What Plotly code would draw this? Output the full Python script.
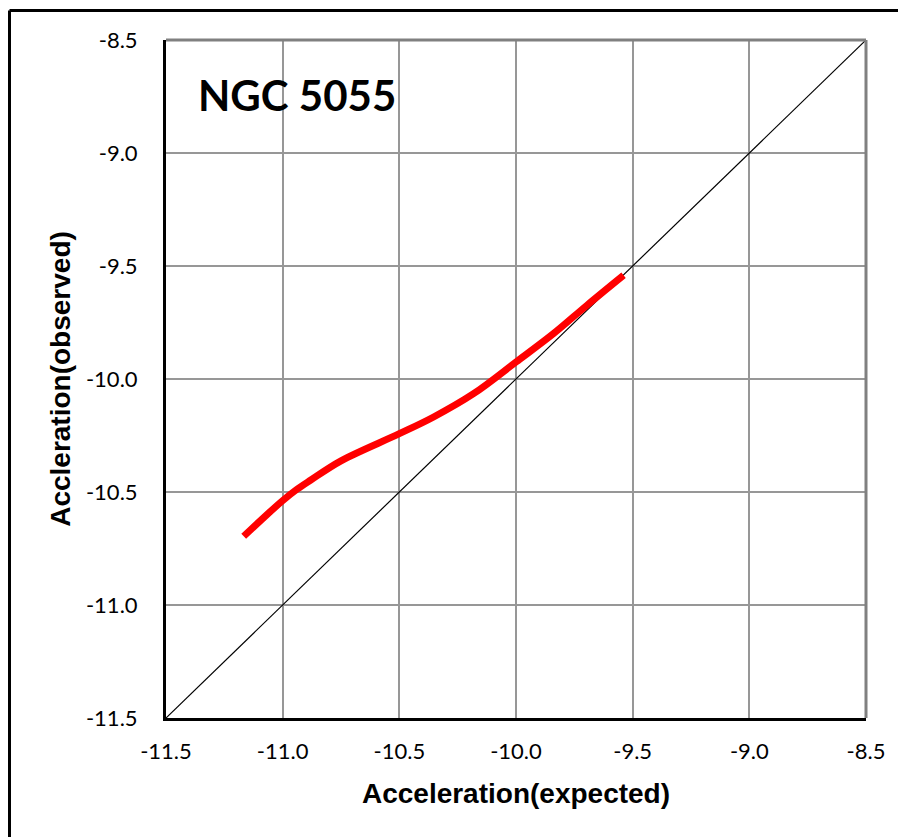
import plotly.graph_objects as go

# Data
expected = [-11.167, -11.08, -11.0, -10.94, -10.881, -10.75, -10.5, -10.353, -10.182, -10.0, -9.839, -9.696, -9.539]
observed = [-10.696, -10.612, -10.538, -10.489, -10.448, -10.362, -10.242, -10.168, -10.065, -9.925, -9.799, -9.674, -9.541]
diag = [-11.5, -8.5]
ticks = [-11.5, -11.0, -10.5, -10.0, -9.5, -9.0, -8.5]
tick_text = ["-11.5", "-11.0", "-10.5", "-10.0", "-9.5", "-9.0", "-8.5"]
label = "NGC 5055"

fig = go.Figure()
fig.add_trace(go.Scatter(x=diag, y=diag, mode="lines",
                         line=dict(color="black", width=1.2), showlegend=False))
fig.add_trace(go.Scatter(x=expected, y=observed, mode="lines",
                         line=dict(color="#ff0000", width=7, shape="spline", smoothing=1.0),
                         showlegend=False))

# page body has an 8px margin, so the figure is laid out 8px up/left
W, H = 898, 829
L, R, T, B = 158, 40, 32, 119
pw, ph = W - L - R, H - T - B

axis_common = dict(
    range=[-11.5, -8.5], tickvals=ticks, ticktext=tick_text,
    showgrid=True, gridcolor="#979797", gridwidth=1.5,
    zeroline=False, showline=True, linecolor="black", linewidth=3,
    ticks="", tickfont=dict(family="Lato, Open Sans, sans-serif", size=22, color="black"),
)

fig.update_layout(
    width=W, height=H,
    margin=dict(l=L, r=R, t=T, b=B),
    paper_bgcolor="white", plot_bgcolor="white",
    xaxis=dict(**axis_common, ticklabelstandoff=12,
               title=dict(text="<b>Acceleration(expected)</b>", standoff=20,
                          font=dict(family="Liberation Sans, Arial, sans-serif", size=28, color="black"))),
    yaxis=dict(**axis_common, ticklabelstandoff=21,
               title=dict(text="<b>Accleration(observed)</b>", standoff=8,
                          font=dict(family="Liberation Sans, Arial, sans-serif", size=28, color="black"))),
    annotations=[dict(text="<b>" + label + "</b>", x=-10.94, y=-8.743, xref="x", yref="y",
                      showarrow=False, xanchor="center", yanchor="middle",
                      font=dict(family="Lato, Open Sans, sans-serif", size=42, color="black"))],
    shapes=[
        dict(type="line", xref="paper", yref="paper", x0=0, x1=1, y0=1, y1=1,
             line=dict(color="#808080", width=3)),
        dict(type="line", xref="paper", yref="paper", x0=1, x1=1, y0=0, y1=1,
             line=dict(color="#808080", width=3)),
        # outer chart border (top and left visible)
        dict(type="line", xref="paper", yref="paper",
             x0=(1.5 - L) / pw, x1=(W + 5 - L) / pw, y0=(H - B - 2.5) / ph, y1=(H - B - 2.5) / ph,
             line=dict(color="black", width=3)),
        dict(type="line", xref="paper", yref="paper",
             x0=(1.5 - L) / pw, x1=(1.5 - L) / pw, y0=(H - B - 2.5) / ph, y1=(H - B - H - 5) / ph,
             line=dict(color="black", width=3)),
    ],
)

fig.write_html("out.html")
